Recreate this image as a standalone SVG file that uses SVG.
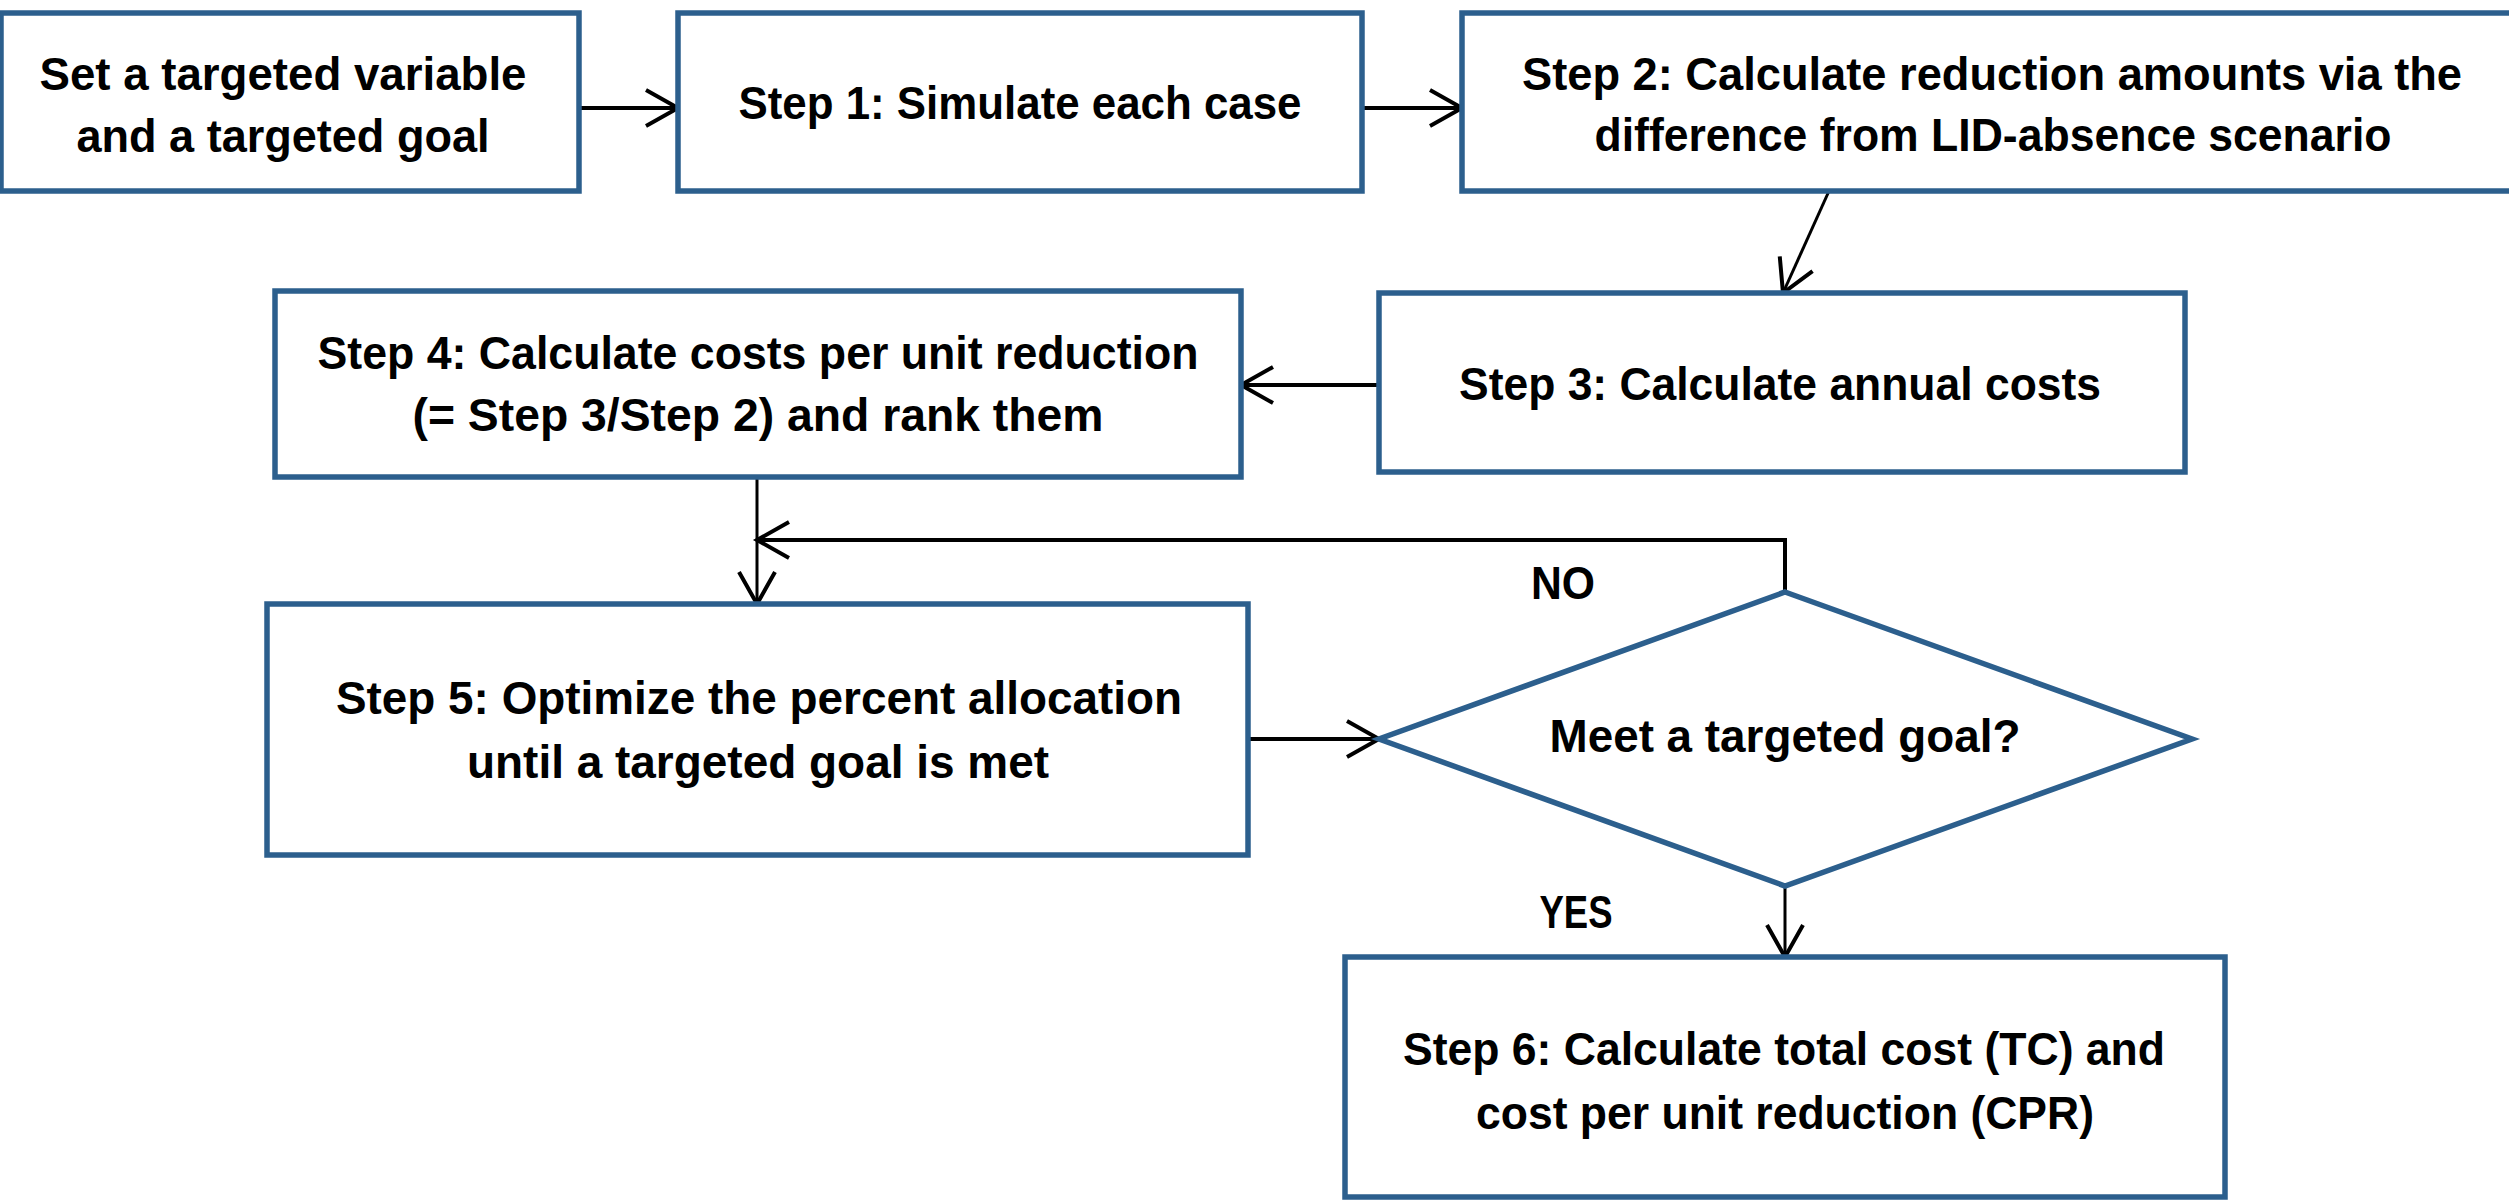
<svg xmlns="http://www.w3.org/2000/svg" width="2509" height="1203" viewBox="0 0 2509 1203">
<style>
.box{fill:#ffffff;stroke:#2c5f8d;stroke-width:5.5}
.t{font-family:"Liberation Sans",Arial,sans-serif;font-weight:bold;font-size:46px;fill:#000000;text-anchor:middle}
.c{fill:none;stroke:#000000;stroke-width:4}
.v{fill:none;stroke:#000000;stroke-width:3}
</style>
<defs>
<marker id="ah" markerUnits="userSpaceOnUse" viewBox="-40 -25 44 50" refX="0" refY="0" markerWidth="44" markerHeight="50" orient="auto" overflow="visible">
<path d="M-32,-18 L0,0 L-32,18" fill="none" stroke="#000000" stroke-width="4"/>
</marker>
</defs>
<rect width="2509" height="1203" fill="#ffffff"/>
<g id="connectors">
<line class="c" x1="579" y1="108" x2="678" y2="108" marker-end="url(#ah)"/>
<line class="c" x1="1362" y1="108" x2="1462" y2="108" marker-end="url(#ah)"/>
<line class="v" x1="1829" y1="191" x2="1783" y2="293" marker-end="url(#ah)"/>
<line class="c" x1="1379" y1="385" x2="1241" y2="385" marker-end="url(#ah)"/>
<line class="v" x1="757" y1="477" x2="757" y2="604" marker-end="url(#ah)"/>
<line class="c" x1="1248" y1="739" x2="1379" y2="739" marker-end="url(#ah)"/>
<polyline class="c" points="1785,592 1785,540 757,540" marker-end="url(#ah)"/>
<line class="v" x1="1785" y1="886" x2="1785" y2="957" marker-end="url(#ah)"/>
</g>
<g id="start">
<rect class="box" x="1" y="13" width="578" height="178"/>
<text class="t" x="283" y="90" textLength="487" lengthAdjust="spacingAndGlyphs">Set a targeted variable</text>
<text class="t" x="283" y="152" textLength="413" lengthAdjust="spacingAndGlyphs">and a targeted goal</text>
</g>
<g id="step1">
<rect class="box" x="678" y="13" width="684" height="178"/>
<text class="t" x="1020" y="119" textLength="563" lengthAdjust="spacingAndGlyphs">Step 1: Simulate each case</text>
</g>
<g id="step2">
<rect class="box" x="1462" y="13" width="1060" height="178"/>
<text class="t" x="1992" y="90" textLength="940" lengthAdjust="spacingAndGlyphs">Step 2: Calculate reduction amounts via the</text>
<text class="t" x="1993" y="151" textLength="797" lengthAdjust="spacingAndGlyphs">difference from LID-absence scenario</text>
</g>
<g id="step3">
<rect class="box" x="1379" y="293" width="806" height="179"/>
<text class="t" x="1780" y="400" textLength="642" lengthAdjust="spacingAndGlyphs">Step 3: Calculate annual costs</text>
</g>
<g id="step4">
<rect class="box" x="275" y="291" width="966" height="186"/>
<text class="t" x="758" y="369" textLength="881" lengthAdjust="spacingAndGlyphs">Step 4: Calculate costs per unit reduction</text>
<text class="t" x="758" y="431" textLength="691" lengthAdjust="spacingAndGlyphs">(= Step 3/Step 2) and rank them</text>
</g>
<g id="step5">
<rect class="box" x="267" y="604" width="981" height="251"/>
<text class="t" x="759" y="714" textLength="846" lengthAdjust="spacingAndGlyphs">Step 5: Optimize the percent allocation</text>
<text class="t" x="758" y="778" textLength="582" lengthAdjust="spacingAndGlyphs">until a targeted goal is met</text>
</g>
<g id="decision">
<polygon class="box" points="1785,592 2192,739 1785,886 1379,739"/>
<text class="t" x="1785" y="752" textLength="471" lengthAdjust="spacingAndGlyphs">Meet a targeted goal?</text>
</g>
<g id="step6">
<rect class="box" x="1345" y="957" width="880" height="240"/>
<text class="t" x="1784" y="1065" textLength="762" lengthAdjust="spacingAndGlyphs">Step 6: Calculate total cost (TC) and</text>
<text class="t" x="1785" y="1129" textLength="618" lengthAdjust="spacingAndGlyphs">cost per unit reduction (CPR)</text>
</g>
<g id="labels">
<text class="t" x="1563" y="599" textLength="64" lengthAdjust="spacingAndGlyphs">NO</text>
<text class="t" x="1576" y="928" textLength="73" lengthAdjust="spacingAndGlyphs">YES</text>
</g>
</svg>
